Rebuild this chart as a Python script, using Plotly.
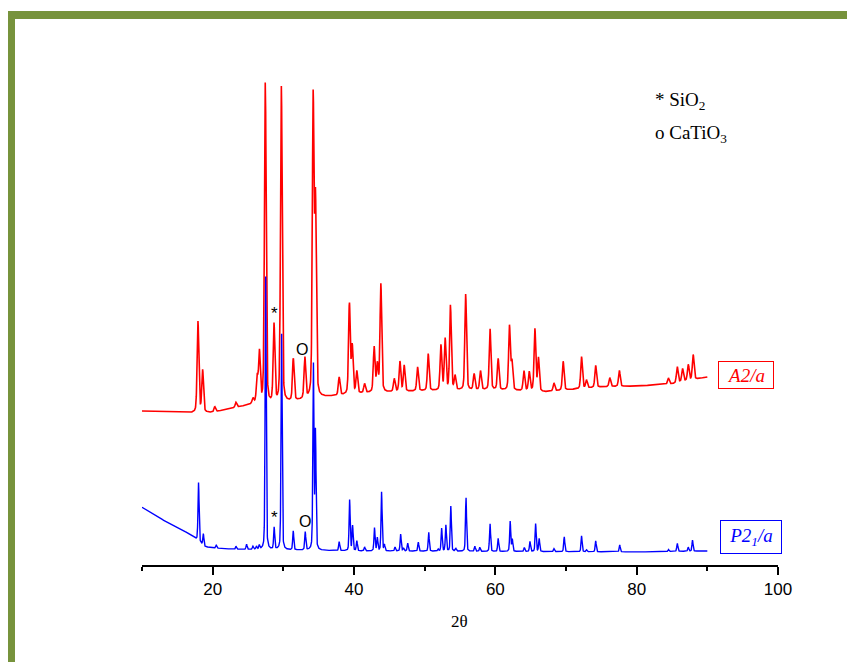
import numpy as np
import plotly.graph_objects as go

# ---------------- data ----------------
two_theta = np.round(np.arange(10.0, 90.0001, 0.02), 3)

# red pattern (A2/a): baseline control points
red_base_x = [10, 17, 20, 23, 26, 28, 31, 36, 42, 50, 60, 67, 75, 80, 85, 90]
red_base_y = [154, 152, 152.5, 157, 161, 160, 163, 168, 172, 174, 175, 173, 178, 179, 181, 188]
# red peaks: position (2θ) and height above baseline
red_peak_pos = [17.92, 18.58, 20.3, 23.3, 25.7, 26.3, 26.62, 27.45, 28.68, 29.72, 31.41,
                33.05, 34.22, 34.55, 37.9, 39.35, 39.75, 40.4, 41.5, 42.85, 43.3, 43.8,
                45.7, 46.5, 47.1, 49.0, 50.5, 52.3, 52.9, 53.65, 54.3, 55.8, 57.0, 57.9,
                59.25, 60.4, 62.0, 62.35, 64.05, 64.8, 65.6, 66.1, 68.3, 69.6, 72.2, 72.9,
                74.2, 76.2, 77.55, 84.5, 85.75, 86.5, 87.3, 88.0]
red_peak_h = [91, 42, 5, 5, 5, 25, 50, 322, 78, 316, 42,
              41, 296, 190, 18, 90, 47, 22, 9, 45, 27, 108,
              13, 30, 26, 24, 37, 45, 51, 85, 14, 96, 16, 19,
              61, 31, 64, 28, 20, 19, 62, 33, 8, 29, 32, 8,
              22, 9, 16, 6, 16, 13, 16, 25]

# blue pattern (P2_1/a): baseline control points
blue_base_x = [10, 12.5, 15.4, 17.5, 18.8, 20, 23, 30, 40, 60, 80, 90]
blue_base_y = [57.7, 46.7, 36.7, 26.7, 18.3, 17, 15.7, 15, 14, 13.5, 13, 14]
blue_peak_pos = [18.0, 18.68, 20.5, 23.3, 24.8, 25.7, 26.2, 26.6, 27.5, 28.7, 29.75, 31.4,
                 33.1, 34.25, 34.55, 37.9, 39.38, 39.8, 40.4, 41.5, 42.9, 43.3, 43.9,
                 44.3, 45.8, 46.6, 47.0, 47.6, 49.1, 50.57, 51.9, 52.4, 53.0, 53.7, 54.4,
                 55.85, 57.1, 57.8, 59.25, 60.4, 62.1, 62.4, 64.1, 64.9, 65.7, 66.2, 68.3,
                 69.75, 72.2, 72.9, 74.2, 77.6, 84.5, 85.75, 87.3, 87.9]
blue_peak_h = [59, 12, 3, 3, 5, 3, 3, 4, 273, 22, 218, 19,
               18, 186, 118, 9, 51, 25, 10, 4, 23, 13, 59,
               6, 4, 17, 3, 8, 9, 19, 2, 23, 26, 45, 3,
               54, 5, 4, 28, 13, 30, 12, 4, 10, 28, 13, 3,
               15, 16, 2, 11, 7, 2, 8, 4, 11]

x_tick_vals = [20, 40, 60, 80, 100]
x_minor_vals = [10, 30, 50, 70, 90]

RED_FWHM = 0.28
BLUE_FWHM = 0.18


def build_profile(x, pos, h, fwhm, bx, by):
    y = np.interp(x, bx, by)
    for p, a in zip(pos, h):
        d = (x - p) / fwhm
        g = np.exp(-4 * np.log(2) * d ** 2)
        lz = 1.0 / (1.0 + 4 * d ** 2)
        y = y + a * (0.65 * g + 0.35 * lz)
    return y


red_y = build_profile(two_theta, red_peak_pos, red_peak_h, RED_FWHM, red_base_x, red_base_y)
blue_y = build_profile(two_theta, blue_peak_pos, blue_peak_h, BLUE_FWHM, blue_base_x, blue_base_y)

# ---------------- figure ----------------
OFF = 8  # page body margin
W, H = 855 - OFF, 662 - OFF
L, R, T = 142 - OFF, 77, 80 - OFF
B = 97
PW, PH = W - L - R, H - T - B
AXIS_Y = 565  # reference pixel row of the x axis


def px(xpix):
    return (xpix - OFF - L) / PW


def py(ypix):
    return (AXIS_Y - ypix) / PH


fig = go.Figure()
fig.add_trace(go.Scatter(x=two_theta, y=red_y, mode="lines",
                         line=dict(color="#FF0000", width=1.6), showlegend=False,
                         hoverinfo="skip"))
fig.add_trace(go.Scatter(x=two_theta, y=blue_y, mode="lines",
                         line=dict(color="#0000FF", width=1.4), showlegend=False,
                         hoverinfo="skip"))

green = "#77933C"
shapes = [
    dict(type="rect", xref="paper", yref="paper", x0=px(0), x1=px(15), y0=py(680), y1=py(11),
         fillcolor=green, line=dict(width=0), layer="below"),
    dict(type="rect", xref="paper", yref="paper", x0=px(0), x1=px(870), y0=py(19), y1=py(11),
         fillcolor=green, line=dict(width=0), layer="below"),
]

serif = "Liberation Serif, Times New Roman, serif"
sans = "Liberation Sans, Arial, sans-serif"

annotations = [
    dict(x=px(653), y=py(101), xref="paper", yref="paper", xanchor="left", yanchor="middle",
         text="* SiO<sub>2</sub>", showarrow=False, font=dict(family=serif, size=19, color="black")),
    dict(x=px(653), y=py(134), xref="paper", yref="paper", xanchor="left", yanchor="middle",
         text="o CaTiO<sub>3</sub>", showarrow=False, font=dict(family=serif, size=19, color="black")),
    dict(x=28.7, y=AXIS_Y - 313, xref="x", yref="y", text="*", showarrow=False,
         font=dict(family=sans, size=17, color="black")),
    dict(x=32.6, y=AXIS_Y - 349, xref="x", yref="y", text="O", showarrow=False,
         font=dict(family=sans, size=16, color="black")),
    dict(x=28.7, y=AXIS_Y - 517, xref="x", yref="y", text="*", showarrow=False,
         font=dict(family=sans, size=17, color="black")),
    dict(x=33.05, y=AXIS_Y - 521, xref="x", yref="y", text="O", showarrow=False,
         font=dict(family=sans, size=16, color="black")),
    dict(x=px(746), y=py(375), xref="paper", yref="paper", xanchor="center", yanchor="middle",
         text="<i>A2/a</i>", showarrow=False, font=dict(family=serif, size=19, color="#FF0000"),
         bordercolor="#FF0000", borderwidth=1, borderpad=0, width=54, height=26),
    dict(x=px(751), y=py(537), xref="paper", yref="paper", xanchor="center", yanchor="middle",
         text="<i>P2<sub>1</sub>/a</i>", showarrow=False, font=dict(family=serif, size=19, color="#0000FF"),
         bordercolor="#0000FF", borderwidth=1, borderpad=0, width=60, height=32),
    dict(x=px(459), y=py(621), xref="paper", yref="paper", xanchor="center", yanchor="middle",
         text="2θ", showarrow=False, font=dict(family=serif, size=17, color="black")),
]

fig.update_layout(
    width=W, height=H,
    margin=dict(l=L, r=R, t=T, b=B, pad=0),
    paper_bgcolor="white", plot_bgcolor="white",
    shapes=shapes, annotations=annotations,
    xaxis=dict(range=[10, 100], tickvals=x_tick_vals, ticks="outside", ticklen=8, tickwidth=2,
               tickcolor="black", showline=True, linecolor="black", linewidth=2,
               showgrid=False, zeroline=False,
               tickfont=dict(family=sans, size=17, color="black"),
               minor=dict(tickvals=x_minor_vals, ticks="outside", ticklen=4, tickwidth=2,
                          tickcolor="black", showgrid=False)),
    yaxis=dict(range=[0, PH], visible=False, showgrid=False, zeroline=False),
)

fig.write_html("out.html")
